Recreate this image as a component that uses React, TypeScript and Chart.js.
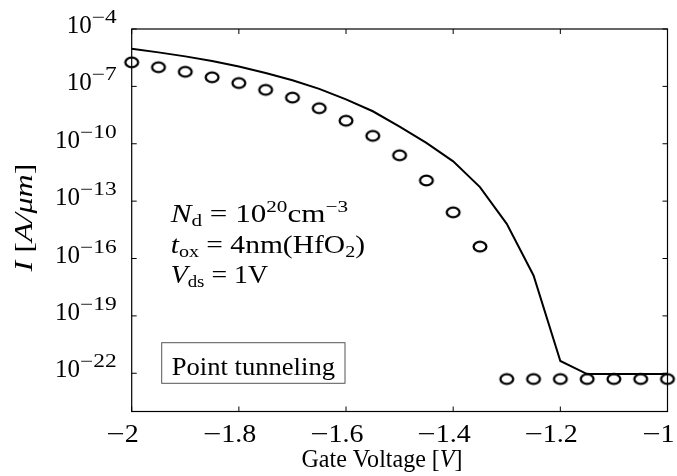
import React, { useEffect, useRef } from 'react';
import { Chart, registerables } from 'chart.js';

Chart.register(...registerables);

// ---- data ----
const VGS_LINE = [-2, -1.95, -1.9, -1.85, -1.8, -1.75, -1.7, -1.65, -1.6, -1.55, -1.5, -1.45, -1.4, -1.35, -1.3, -1.25, -1.2, -1.15, -1.1, -1.05, -1];
const I_LINE = [9.3e-6, 6.0e-6, 3.7e-6, 2.1e-6, 1.1e-6, 5.0e-7, 2.1e-7, 7.4e-8, 2.1e-8, 5.0e-9, 7.9e-10, 1.1e-10, 1.2e-11, 5.4e-13, 6.5e-15, 1.3e-17, 4.4e-22, 9.1e-23, 9.1e-23, 9.1e-23, 9.1e-23];
const VGS_PTS = [-2, -1.95, -1.9, -1.85, -1.8, -1.75, -1.7, -1.65, -1.6, -1.55, -1.5, -1.45, -1.4, -1.35, -1.3, -1.25, -1.2, -1.15, -1.1, -1.05, -1];
const I_PTS = [1.8e-6, 1.0e-6, 5.8e-7, 3.0e-7, 1.5e-7, 6.6e-8, 2.6e-8, 7.2e-9, 1.6e-9, 2.6e-10, 2.5e-11, 1.2e-12, 2.6e-14, 4.2e-16, 5e-23, 5e-23, 5e-23, 5e-23, 5e-23, 5e-23, 5e-23];
const X_TICKS = [-2, -1.8, -1.6, -1.4, -1.2, -1];
const Y_TICK_EXP = [-22, -19, -16, -13, -10, -7, -4];
const X_MIN = -2;
const X_MAX = -1;
const Y_MIN = 1e-24;
const Y_MAX = 1e-4;

const X_TITLE = 'Gate Voltage';
const ANNOT = ['N_d = 10^20 cm^-3', 't_ox = 4nm(HfO_2)', 'V_ds = 1V'];
const BOX_TEXT = 'Point tunneling';

const FONT = '"Liberation Serif", "Times New Roman", serif';

type Seg = { t: string; it?: boolean; sz: number; dy?: number; sx?: number };

function fontOf(s: Seg) {
  return `${s.it ? 'italic ' : ''}${s.sz}px ${FONT}`;
}
function segW(ctx: CanvasRenderingContext2D, s: Seg) {
  ctx.font = fontOf(s);
  return ctx.measureText(s.t).width * (s.sx || 1);
}
function richW(ctx: CanvasRenderingContext2D, segs: Seg[]) {
  let w = 0;
  for (const s of segs) w += segW(ctx, s);
  return w;
}
function drawRich(ctx: CanvasRenderingContext2D, segs: Seg[], x: number, y: number, align: 'left' | 'center' | 'right', targetW?: number) {
  const nat = richW(ctx, segs);
  const k = targetW ? targetW / nat : 1;
  const total = nat * k;
  const x0 = align === 'left' ? x : align === 'center' ? x - total / 2 : x - total;
  ctx.save();
  ctx.translate(x0, y);
  ctx.scale(k, 1);
  ctx.textAlign = 'left';
  ctx.textBaseline = 'alphabetic';
  let cx = 0;
  for (const s of segs) {
    ctx.save();
    ctx.translate(cx, s.dy || 0);
    ctx.scale(s.sx || 1, 1);
    ctx.font = fontOf(s);
    ctx.fillText(s.t, 0, 0);
    ctx.restore();
    cx += segW(ctx, s);
  }
  ctx.restore();
}

const decorPlugin = {
  id: 'decor',
  afterDraw(chart: any) {
    const ctx: CanvasRenderingContext2D = chart.ctx;
    const { left, right, top, bottom } = chart.chartArea;
    const xs = chart.scales.x;
    const ys = chart.scales.y;
    ctx.save();
    ctx.strokeStyle = '#000';
    ctx.fillStyle = '#000';
    ctx.lineWidth = 1.2;
    ctx.strokeRect(left, top, right - left, bottom - top);
    ctx.lineWidth = 1;
    const TL = 5;
    // x ticks (number centred on the tick, minus sign hanging to its left)
    for (const t of xs.ticks) {
      const px = xs.getPixelForValue(t.value);
      ctx.beginPath();
      ctx.moveTo(px, bottom);
      ctx.lineTo(px, bottom - TL);
      ctx.moveTo(px, top);
      ctx.lineTo(px, top + TL);
      ctx.stroke();
      const nSeg: Seg = { t: Math.abs(t.value).toString(), sz: 25, sx: 1.12 };
      const mSeg: Seg = { t: '\u2212', sz: 25, sx: 1.3 };
      const neg = t.value < 0;
      const wn = segW(ctx, nSeg);
      const wm = neg ? segW(ctx, mSeg) : 0;
      drawRich(ctx, neg ? [mSeg, nSeg] : [nSeg], px - wn / 2 - wm, 441.7, 'left');
    }
    // y ticks
    for (const t of ys.ticks) {
      const py = ys.getPixelForValue(t.value);
      ctx.beginPath();
      ctx.moveTo(left, py);
      ctx.lineTo(left + TL, py);
      ctx.moveTo(right, py);
      ctx.lineTo(right - TL, py);
      ctx.stroke();
      const e = Math.round(Math.log10(t.value));
      const segs: Seg[] = [
        { t: '10', sz: 25 },
        { t: (e < 0 ? '\u2212' : '') + Math.abs(e), sz: 18, dy: -10, sx: 1.3 },
      ];
      drawRich(ctx, segs, left - 15, py + 4, 'right');
    }
    // x title
    drawRich(ctx, [
      { t: X_TITLE + ' [', sz: 25 },
      { t: 'V', sz: 25, it: true },
      { t: ']', sz: 25 },
    ], 382, 466.7, 'center', 161);
    // y title
    ctx.save();
    ctx.translate(31.7, 217.5);
    ctx.rotate(-Math.PI / 2);
    drawRich(ctx, [
      { t: 'I', sz: 25, it: true },
      { t: ' [', sz: 25 },
      { t: 'A/\u03bcm', sz: 25, it: true },
      { t: ']', sz: 25 },
    ], 0, 0, 'center', 108);
    ctx.restore();
    // annotation lines
    const annSegs: Seg[][] = ANNOT.map((line) => {
      const [lhs, rhs] = line.split(' = ');
      const [v, sub] = lhs.split('_');
      const out: Seg[] = [
        { t: v, sz: 25, it: true },
        { t: sub, sz: 17, dy: 4 },
        { t: ' = ', sz: 25 },
      ];
      const re = /([\^_])(-?\d+)/g;
      let last = 0;
      let m: RegExpExecArray | null;
      const r = rhs.replace(' ', '');
      while ((m = re.exec(r))) {
        if (m.index > last) out.push({ t: r.slice(last, m.index), sz: 25 });
        out.push({ t: m[2].replace('-', '\u2212'), sz: 17, dy: m[1] === '^' ? -10 : 4 });
        last = m.index + m[0].length;
      }
      if (last < r.length) out.push({ t: r.slice(last), sz: 25 });
      return out;
    });
    const annW = [177.3, 194.3, 97.3];
    const annY = [221.7, 252.7, 282.7];
    annSegs.forEach((segs, i) => drawRich(ctx, segs, 170.7, annY[i], 'left', annW[i]));
    // boxed label
    ctx.fillStyle = '#fff';
    ctx.fillRect(161.7, 342.7, 183.3, 40.6);
    ctx.strokeStyle = '#555';
    ctx.lineWidth = 1;
    ctx.strokeRect(161.7, 342.7, 183.3, 40.6);
    ctx.fillStyle = '#000';
    drawRich(ctx, [{ t: BOX_TEXT, sz: 25 }], 171.7, 375, 'left', 163.3);
    ctx.restore();
  },
};

export default function App() {
  const ref = useRef<HTMLCanvasElement | null>(null);
  useEffect(() => {
    if (!ref.current) return;
    const mk = document.createElement('canvas');
    mk.width = 18;
    mk.height = 15;
    const c = mk.getContext('2d')!;
    c.strokeStyle = '#000';
    c.lineWidth = 2.3;
    c.beginPath();
    c.ellipse(9, 7.5, 6.4, 4.8, 0, 0, Math.PI * 2);
    c.stroke();

    const chart = new Chart(ref.current, {
      type: 'scatter',
      data: {
        datasets: [
          {
            label: 'simulation',
            data: VGS_LINE.map((x, i) => ({ x, y: I_LINE[i] })),
            showLine: true,
            borderColor: '#000',
            borderWidth: 2,
            pointRadius: 0,
            tension: 0,
            clip: false,
          } as any,
          {
            label: 'points',
            data: VGS_PTS.map((x, i) => ({ x, y: I_PTS[i] })),
            showLine: false,
            pointStyle: mk as any,
            pointRadius: 7,
            clip: false,
          } as any,
        ],
      },
      options: {
        responsive: false,
        animation: false,
        layout: { autoPadding: false, padding: { top: 29, right: 9.5, left: 0, bottom: 0 } },
        plugins: { legend: { display: false }, tooltip: { enabled: false } },
        scales: {
          x: {
            type: 'linear',
            min: X_MIN,
            max: X_MAX,
            ticks: { display: false },
            grid: { display: false },
            border: { display: false },
            afterBuildTicks: (s: any) => {
              s.ticks = X_TICKS.map((v) => ({ value: v }));
            },
            afterFit: (s: any) => {
              s.height = 64.5;
            },
          },
          y: {
            type: 'logarithmic',
            min: Y_MIN,
            max: Y_MAX,
            ticks: { display: false },
            grid: { display: false },
            border: { display: false },
            afterBuildTicks: (s: any) => {
              s.ticks = Y_TICK_EXP.map((e) => ({ value: Math.pow(10, e) }));
            },
            afterFit: (s: any) => {
              s.width = 131.7;
            },
          },
        },
      } as any,
      plugins: [decorPlugin],
    });
    return () => chart.destroy();
  }, []);
  return (
    <div style={{ position: 'absolute', left: 0, top: 0, width: 677, height: 476, background: '#fff' }}>
      <canvas ref={ref} width={677} height={476} style={{ display: 'block' }} />
    </div>
  );
}
